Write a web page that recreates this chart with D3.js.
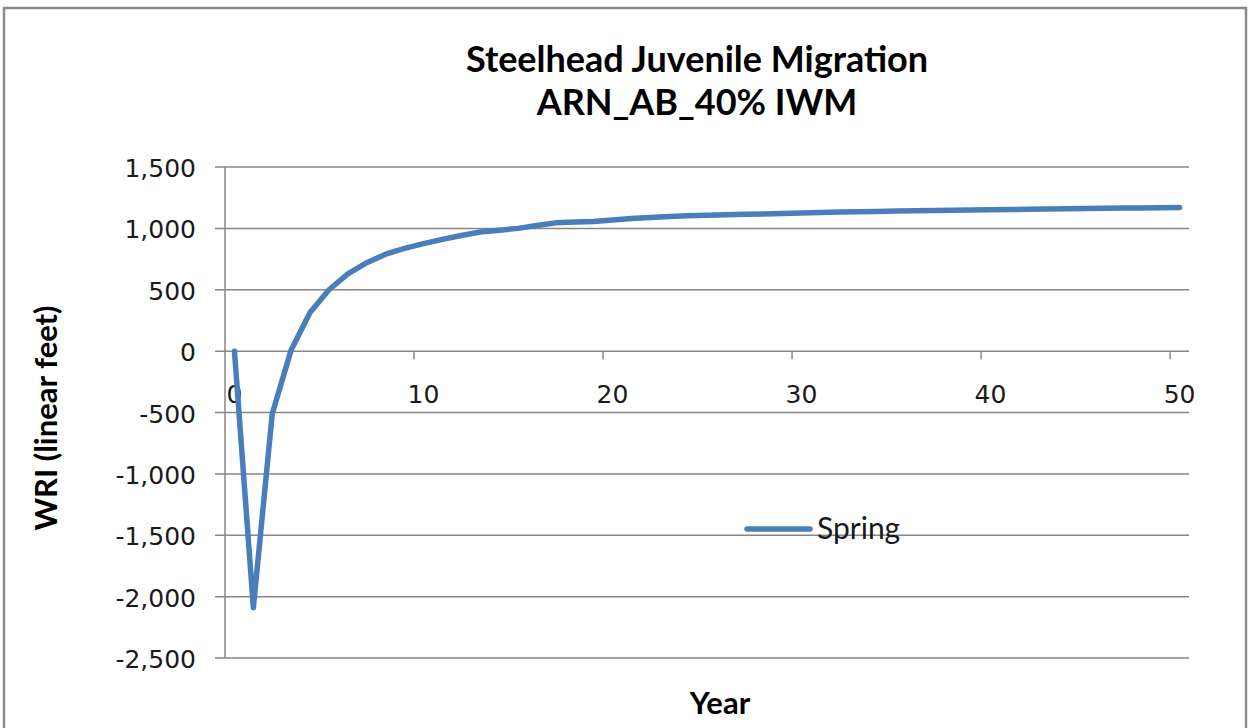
<!DOCTYPE html>
<html>
<head>
<meta charset="utf-8">
<script src="https://cdn.jsdelivr.net/npm/d3@7"></script>
<style>
  body { margin: 0; background: #fff; }
  svg { display: block; }
</style>
</head>
<body>
<svg id="chart"></svg>
<script>
// Series values, one per year 0..50
const years = d3.range(0, 51);
const spring = [
  0, -2090, -510, 10, 315, 500, 630, 720, 790, 837,
  876, 910, 942, 970, 985, 1000, 1023, 1045, 1052, 1056,
  1068, 1080, 1088, 1096, 1103, 1107, 1110, 1115, 1118, 1122,
  1126, 1130, 1133, 1136, 1138, 1141, 1143, 1145, 1147, 1149,
  1151, 1153, 1155, 1157, 1159, 1161, 1163, 1165, 1166, 1168, 1170
];
const yTicks = [-2500, -2000, -1500, -1000, -500, 0, 500, 1000, 1500];
const xTickLabels = [0, 10, 20, 30, 40, 50];
const titleLines = ["Steelhead Juvenile Migration", "ARN_AB_40% IWM"];

const width = 1250, height = 728;
const svg = d3.select("#chart").attr("width", width).attr("height", height);

const gridColor = "#878787";
const lineColor = "#4a7ebb";
const tickFont = "'DejaVu Sans', sans-serif";
const textFont = "Lato, 'Open Sans', sans-serif";

// plain hyphen for negatives, like the original
const fmt = d3.formatLocale({
  decimal: ".",
  thousands: ",",
  grouping: [3],
  currency: ["$", ""],
  minus: "-",
}).format(",");

// chart frame
svg.append("rect")
  .attr("x", 4).attr("y", 8)
  .attr("width", 1242).attr("height", 730)
  .attr("fill", "#fff")
  .attr("stroke", "#8c8c8c")
  .attr("stroke-width", 2.5);

// category axis: each year sits in the middle of its slot
const x = d3.scaleLinear().domain([-0.5, 50.5]).range([225, 1189]);
const y = d3.scaleLinear().domain([-2500, 1500]).range([658, 167]);

// horizontal gridlines + y ticks
svg.append("g")
  .selectAll("line")
  .data(yTicks)
  .join("line")
  .attr("x1", 215)
  .attr("x2", x.range()[1])
  .attr("y1", (d) => y(d))
  .attr("y2", (d) => y(d))
  .attr("stroke", gridColor)
  .attr("stroke-width", 1.5);

// y axis line
svg.append("line")
  .attr("x1", x.range()[0]).attr("x2", x.range()[0])
  .attr("y1", y(1500)).attr("y2", y(-2500))
  .attr("stroke", gridColor)
  .attr("stroke-width", 1.5);

svg.append("g")
  .selectAll("text")
  .data(yTicks)
  .join("text")
  .attr("x", 196)
  .attr("y", (d) => y(d) + 10)
  .attr("text-anchor", "end")
  .style("font-family", tickFont)
  .style("font-size", "25px")
  .attr("fill", "#1a1a1a")
  .text((d) => fmt(d));

// x tick marks at category boundaries, every 10 years
svg.append("g")
  .selectAll("line")
  .data(xTickLabels.slice(1))
  .join("line")
  .attr("x1", (d) => x(d - 0.5))
  .attr("x2", (d) => x(d - 0.5))
  .attr("y1", y(0))
  .attr("y2", y(0) + 8)
  .attr("stroke", gridColor)
  .attr("stroke-width", 1.5);

svg.append("g")
  .selectAll("text")
  .data(xTickLabels)
  .join("text")
  .attr("x", (d) => x(d))
  .attr("y", 403)
  .attr("text-anchor", "middle")
  .style("font-family", tickFont)
  .style("font-size", "25px")
  .attr("fill", "#1a1a1a")
  .text((d) => d);

// series line
const line = d3.line()
  .x((d, i) => x(years[i]))
  .y((d) => y(d));

svg.append("path")
  .datum(spring)
  .attr("d", line)
  .attr("fill", "none")
  .attr("stroke", lineColor)
  .attr("stroke-width", 5.5)
  .attr("stroke-linejoin", "round")
  .attr("stroke-linecap", "round");

// title
svg.append("g")
  .selectAll("text")
  .data(titleLines)
  .join("text")
  .attr("x", 697)
  .attr("y", (d, i) => 72 + i * 43)
  .attr("text-anchor", "middle")
  .style("font-family", textFont)
  .style("font-weight", "bold")
  .style("font-size", "36px")
  .attr("fill", "#000")
  .text((d) => d);

// axis titles
svg.append("text")
  .attr("transform", `translate(57,418) rotate(-90)`)
  .attr("text-anchor", "middle")
  .style("font-family", textFont)
  .style("font-weight", "bold")
  .style("font-size", "31px")
  .text("WRI (linear feet)");

svg.append("text")
  .attr("x", 720)
  .attr("y", 714)
  .attr("text-anchor", "middle")
  .style("font-family", textFont)
  .style("font-weight", "bold")
  .style("font-size", "31px")
  .text("Year");

// legend
const legend = svg.append("g").attr("transform", "translate(747,529)");
legend.append("line")
  .attr("x1", 0).attr("x2", 63)
  .attr("y1", 0).attr("y2", 0)
  .attr("stroke", lineColor)
  .attr("stroke-width", 5.5)
  .attr("stroke-linecap", "round");
legend.append("text")
  .attr("x", 70)
  .attr("y", 10)
  .style("font-family", textFont)
  .style("font-size", "30px")
  .attr("fill", "#1a1a1a")
  .text("Spring");
</script>
</body>
</html>
